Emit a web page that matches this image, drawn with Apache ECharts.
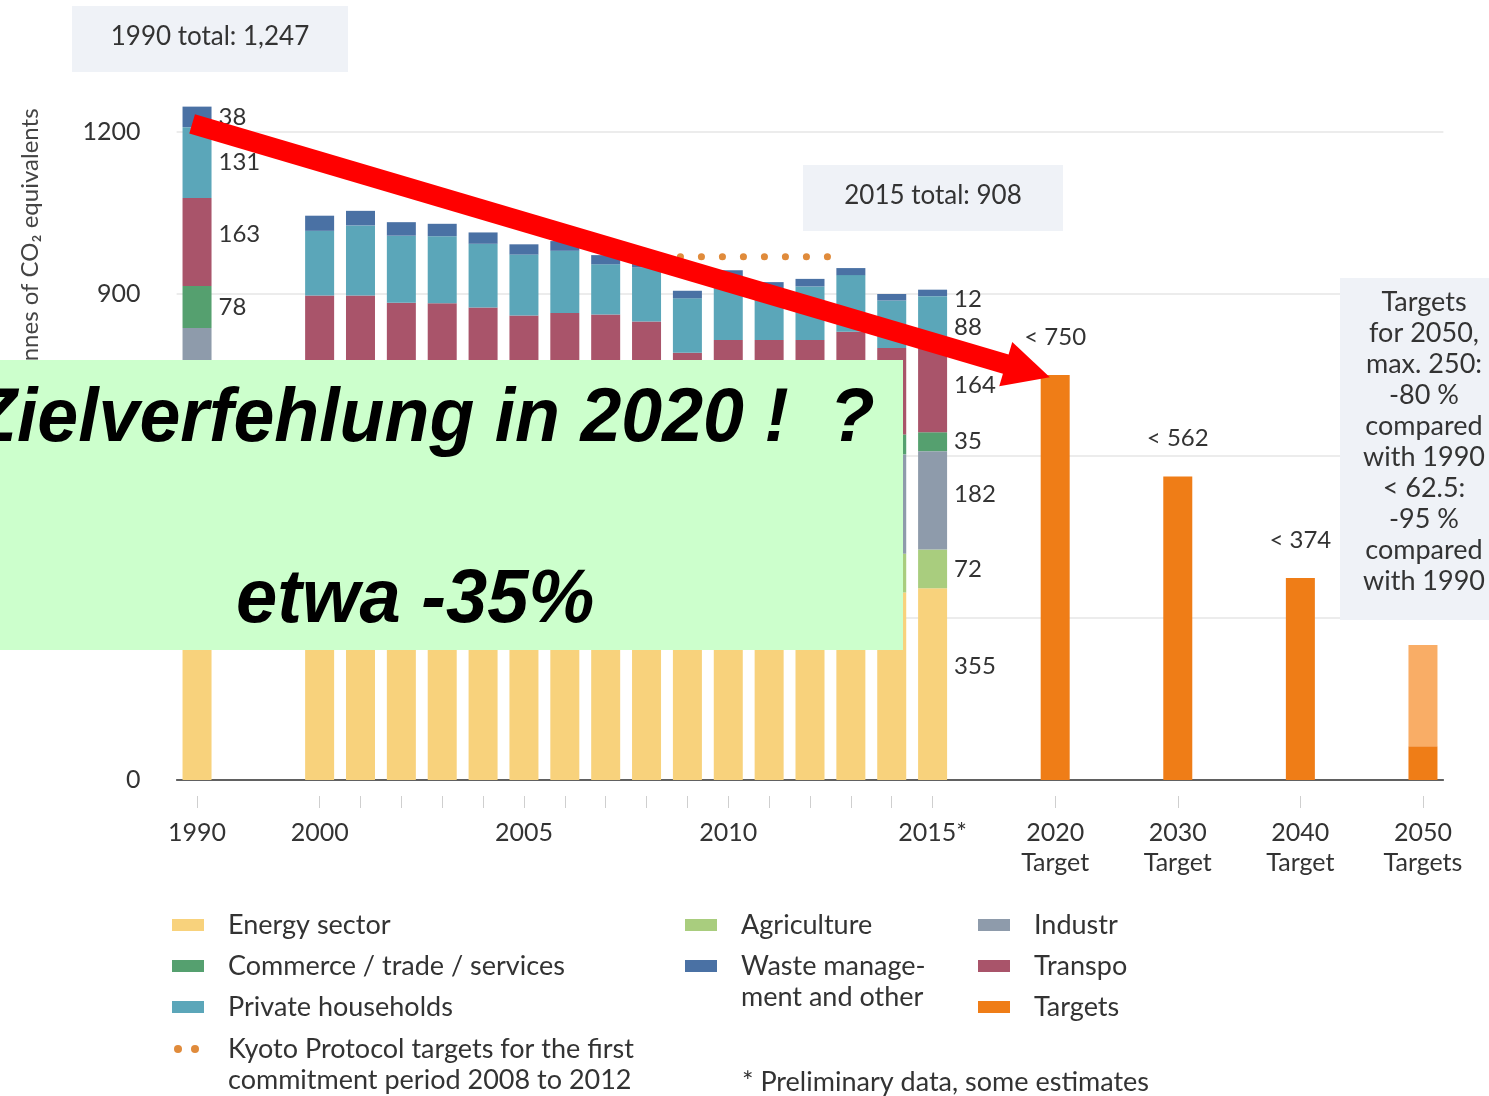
<!DOCTYPE html>
<html>
<head>
<meta charset="utf-8">
<title>Greenhouse gas emissions in Germany by sector</title>
<script src="https://cdn.jsdelivr.net/npm/echarts@6/dist/echarts.min.js"></script>
<style>
  html, body { margin: 0; padding: 0; background: #fff; }
  #chart { width: 1489px; height: 1096px; }
</style>
</head>
<body>
<div id="chart"></div>
<script>
// years drawn as bars
const years = ['1990', '2000', '2001', '2002', '2003', '2004', '2005', '2006', '2007', '2008',
               '2009', '2010', '2011', '2012', '2013', '2014', '2015*'];
// million tonnes of CO2 equivalents, per sector (bottom to top of the stack)
const energy      = [466, 380, 387, 389, 393, 387, 390, 392, 396, 388, 355, 362, 365, 366, 372, 347, 355];
const agriculture = [ 88,  76,  77,  75,  74,  73,  72,  72,  73,  72,  70,  70,  69,  70,  71,  72,  72];
const industry    = [283, 205, 198, 196, 195, 196, 190, 192, 195, 190, 172, 188, 188, 185, 188, 184, 182];
const commerce    = [ 78,  55,  58,  52,  51,  48,  46,  46,  40,  44,  41,  42,  39,  39,  41,  37,  35];
const transport   = [163, 181, 177, 172, 170, 171, 162, 163, 158, 155, 153, 153, 154, 155, 158, 160, 164];
const households  = [131, 120, 130, 124, 124, 118, 113, 115,  93, 100, 101, 115,  94,  99, 105,  88,  88];
const waste       = [ 38,  28,  27,  25,  23,  21,  19,  18,  17,  16,  14,  14,  13,  14,  13,  12,  12];

// reduction targets
const targetYears = ['2020\nTarget', '2030\nTarget', '2040\nTarget', '2050\nTargets'];
const targets     = [750, 562, 374, 62.5];
const targets2050Upper = [null, null, null, 187.5];   // 62.5 .. 250 range for 2050
const targetLabels = ['< 750', '< 562', '< 374', ''];

// Kyoto target 2008-2012, and the annotation arrow (x in slot units, y in Mt)
const kyotoTarget = 969;
const kyotoSpan = [10.8, 15.45];
const arrowFrom = [-0.12, 1215];
const arrowTo   = [20.33, 758];

const yTicks = [0, 300, 600, 900, 1200];
const shownLabels = ['1990', '2000', '2005', '2010', '2015*'].concat(targetYears);

// two empty slots between 1990 and 2000 and between every target
function toSlots(hist, tgt) {
    const out = [hist[0], null, null].concat(hist.slice(1));
    tgt.forEach(v => out.push(null, null, v));
    return out;
}
const noHist = years.map(() => null);
const noTarget = targets.map(() => null);
const categories = toSlots(years, targetYears).map(c => c == null ? '' : c);

const font = 'Lato';
const sectors = [
    { name: 'Energy sector', data: energy, color: '#f8d27c', show1990: false, dy: -18 },
    { name: 'Agriculture', data: agriculture, color: '#a9cd7e', show1990: false, dy: 0 },
    { name: 'Industry', data: industry, color: '#8e9bab', show1990: false, dy: -6 },
    { name: 'Commerce / trade / services', data: commerce, color: '#55a06f', show1990: true, dy: 0 },
    { name: 'Transport', data: transport, color: '#a9546a', show1990: true, dy: -3, dy1990: -8 },
    { name: 'Private households', data: households, color: '#5ba6b9', show1990: true, dy: 7 },
    { name: 'Waste management and other', data: waste, color: '#4a71a4', show1990: true, dy: 6 }
];

const last = categories.indexOf('2015*');
const series = sectors.map(s => ({
    name: s.name,
    type: 'bar',
    stack: 'total',
    barWidth: 29,
    clip: false,
    itemStyle: { color: s.color },
    label: { show: false, position: 'right', distance: 7, color: '#333', fontSize: 24, fontFamily: font },
    data: toSlots(s.data, noTarget).map((v, i) => {
        if (i === 0 && s.show1990) return { value: v, label: { show: true, offset: [0, s.dy1990 || 0] } };
        if (i === last) return { value: v, label: { show: true, offset: [0, s.dy] } };
        return v;
    })
}));

series.push({
    name: 'Targets',
    type: 'bar',
    stack: 'total',
    barWidth: 29,
    itemStyle: { color: '#ef7d17' },
    label: {
        show: true, position: 'top', distance: 26, color: '#333', fontSize: 24, fontFamily: font,
        formatter: p => targetLabels[targets.indexOf(p.value)] || ''
    },
    data: toSlots(noHist, targets)
});
series.push({
    name: 'Targets 2050 max',
    type: 'bar',
    stack: 'total',
    barWidth: 29,
    itemStyle: { color: '#f9ad66' },
    data: toSlots(noHist, targets2050Upper)
});
series.push({
    name: 'Kyoto Protocol targets',
    type: 'line',
    xAxisIndex: 2,
    yAxisIndex: 1,
    symbol: 'none',
    lineStyle: { color: '#e08b3b', width: 7, type: [0.1, 20.9], cap: 'round' },
    data: kyotoSpan.map(x => [x, kyotoTarget]),
    z: 4
});
// red annotation arrow from the 1990 total to the 2020 target
series.push({
    name: 'arrow',
    type: 'line',
    xAxisIndex: 2,
    yAxisIndex: 1,
    symbol: 'none',
    lineStyle: { opacity: 0 },
    data: [arrowFrom, arrowTo],
    markLine: {
        silent: true,
        symbol: ['none', 'triangle'],
        symbolSize: 46,
        label: { show: false },
        lineStyle: { color: '#ff0000', width: 20, type: 'solid', opacity: 1 },
        itemStyle: { color: '#ff0000' },
        data: [[{ coord: arrowFrom }, { coord: arrowTo }]]
    },
    z: 6
});

// legend, drawn by hand to keep the original layout
const legendFont = '27px ' + font;
const legendRows = [
    { x: 172, y: 925, color: '#f8d27c', text: 'Energy sector' },
    { x: 172, y: 966, color: '#55a06f', text: 'Commerce / trade / services' },
    { x: 172, y: 1007, color: '#5ba6b9', text: 'Private households' },
    { x: 685, y: 925, color: '#a9cd7e', text: 'Agriculture' },
    { x: 685, y: 966, color: '#4a71a4', text: 'Waste manage-\nment and other' },
    { x: 978, y: 925, color: '#8e9bab', text: 'Industr' },
    { x: 978, y: 966, color: '#a9546a', text: 'Transpo' },
    { x: 978, y: 1007, color: '#ef7d17', text: 'Targets' }
];
const legendGraphics = [];
legendRows.forEach(r => {
    legendGraphics.push({ type: 'rect', shape: { x: r.x, y: r.y - 6, width: 32, height: 12 }, style: { fill: r.color } });
    legendGraphics.push({
        type: 'text', x: r.x + 56, y: r.y - 15,
        style: { text: r.text, fill: '#333', font: legendFont, lineHeight: 31, textVerticalAlign: 'top' }
    });
});
legendGraphics.push(
    { type: 'circle', shape: { cx: 178, cy: 1049, r: 4 }, style: { fill: '#e08b3b' } },
    { type: 'circle', shape: { cx: 195, cy: 1049, r: 4 }, style: { fill: '#e08b3b' } },
    { type: 'text', x: 228, y: 1034, style: { text: 'Kyoto Protocol targets for the first\ncommitment period 2008 to 2012', fill: '#333', font: legendFont, lineHeight: 31, textVerticalAlign: 'top' } },
    { type: 'text', x: 742, y: 1069, style: { text: '* Preliminary data, some estimates', fill: '#333', font: legendFont, textVerticalAlign: 'top' } }
);

const boxFill = '#eff2f7';
const boxFont = '26px ' + font;
const bigFont = 'italic bold 76px "Liberation Sans"';
const graphics = [
    { type: 'rect', z: 10, shape: { x: 72, y: 6, width: 276, height: 66 }, style: { fill: boxFill } },
    { type: 'text', z: 11, x: 210, y: 37, style: { text: '1990 total: 1,247', fill: '#333', font: boxFont, textAlign: 'center', textVerticalAlign: 'middle' } },
    { type: 'rect', z: 10, shape: { x: 803, y: 165, width: 260, height: 66 }, style: { fill: boxFill } },
    { type: 'text', z: 11, x: 933, y: 196, style: { text: '2015 total: 908', fill: '#333', font: boxFont, textAlign: 'center', textVerticalAlign: 'middle' } },
    { type: 'rect', z: 10, shape: { x: 1340, y: 278, width: 149, height: 342 }, style: { fill: boxFill } },
    { type: 'text', z: 11, x: 1424, y: 287, style: {
        text: 'Targets\nfor 2050,\nmax. 250:\n-80 %\ncompared\nwith 1990\n< 62.5:\n-95 %\ncompared\nwith 1990',
        fill: '#333', font: '27px ' + font, lineHeight: 31, textAlign: 'center', textVerticalAlign: 'top' } },
    { type: 'text', x: 30, y: 285, rotation: Math.PI / 2, style: {
        text: 'Million tonnes of CO\u2082 equivalents', fill: '#444', font: '24px ' + font,
        textAlign: 'center', textVerticalAlign: 'middle' } },
    // overlay box
    { type: 'rect', z: 100, shape: { x: 0, y: 360, width: 903, height: 290 }, style: { fill: '#ccffcc' } },
    { type: 'text', z: 101, x: -28, y: 420, scaleX: 0.967, style: { text: 'Zielverfehlung in 2020 !  ?', fill: '#000', font: bigFont, textVerticalAlign: 'middle' } },
    { type: 'text', z: 101, x: 236, y: 601, scaleX: 0.975, style: { text: 'etwa -35%', fill: '#000', font: bigFont, textVerticalAlign: 'middle' } }
].concat(legendGraphics);

const chart = echarts.init(document.getElementById('chart'));
chart.setOption({
    animation: false,
    backgroundColor: '#fff',
    textStyle: { fontFamily: font },
    grid: [
        { left: 176.6, right: 45.6, top: 132, bottom: 316, outerBoundsMode: 'none' },
        { left: 176.6, right: 45.6, top: 24, bottom: 316, outerBoundsMode: 'none' }
    ],
    xAxis: [
        {
            type: 'category', data: categories, gridIndex: 0, position: 'bottom',
            axisLine: { lineStyle: { color: '#333', width: 1.5 } },
            axisTick: { show: false },
            axisLabel: {
                interval: (i, v) => shownLabels.indexOf(v) >= 0,
                margin: 38, fontSize: 25, lineHeight: 30, color: '#333', fontFamily: font
            }
        },
        {
            type: 'category', data: categories, gridIndex: 0, position: 'bottom', offset: 16,
            axisLine: { show: false },
            axisLabel: { show: false },
            axisTick: { show: true, alignWithLabel: true, length: 12, interval: (i, v) => v !== '', lineStyle: { color: '#cfcfcf' } }
        },
        { type: 'value', gridIndex: 1, min: -0.5, max: 30.5, show: false }
    ],
    yAxis: [
        {
            type: 'value', gridIndex: 0, min: yTicks[0], max: yTicks[yTicks.length - 1], interval: 300,
            axisLine: { show: false }, axisTick: { show: false },
            axisLabel: { margin: 36, fontSize: 25, color: '#333', fontFamily: font, formatter: v => String(v) },
            splitLine: { lineStyle: { color: '#e6e6e6', width: 1.5 } }
        },
        { type: 'value', gridIndex: 1, min: 0, max: 1400, show: false }
    ],
    series: series,
    graphic: graphics
});
</script>
</body>
</html>
